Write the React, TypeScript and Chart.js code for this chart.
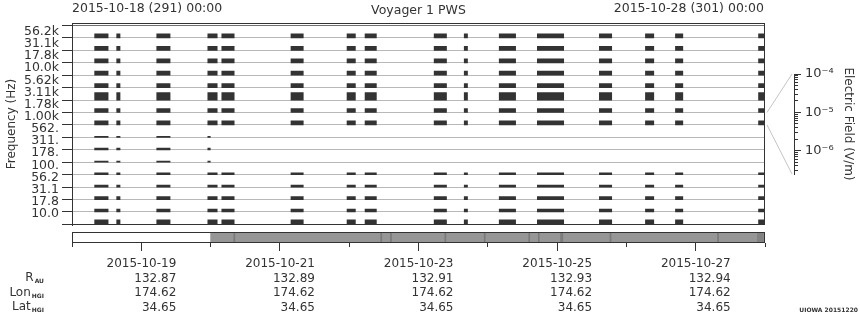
import React, { useEffect, useRef } from 'react';
import { Chart, registerables } from 'chart.js';

Chart.register(...registerables);

// ---------- data ----------
const CHANNEL_LABELS = ['56.2k', '31.1k', '17.8k', '10.0k', '5.62k', '3.11k', '1.78k', '1.00k', '562.', '311.', '178.', '100.', '56.2', '31.1', '17.8', '10.0'];
// observation blocks, days since 2015-10-18 00:00
const BLOCK_START = [0.322, 0.640, 1.218, 1.955, 2.157, 3.155, 3.964, 4.224, 5.221, 5.655, 6.160, 6.710, 7.605, 8.270, 8.703, 9.902];
const BLOCK_END = [0.526, 0.698, 1.420, 2.100, 2.345, 3.342, 4.094, 4.397, 5.409, 5.712, 6.406, 7.100, 7.793, 8.400, 8.819, 10.0];
// signal height of each channel (fraction of a channel band)
const CHANNEL_HEIGHT = [0.38, 0.38, 0.38, 0.38, 0.38, 0.66, 0.38, 0.38, 0.14, 0.2, 0.14, 0.2, 0.22, 0.3, 0.28, 0.42];
// last day with data for each channel
const CHANNEL_LAST_DAY = [10, 10, 10, 10, 10, 10, 10, 10, 2.0, 2.0, 2.0, 10, 10, 10, 10, 10];
const TIME_MIN = 0;
const TIME_MAX = 10;

const DATE_TICKS = [1, 3, 5, 7, 9];
const DAY_TICKS = [0, 2, 4, 6, 8, 10];
const DATE_LABELS = ['2015-10-19', '2015-10-21', '2015-10-23', '2015-10-25', '2015-10-27'];
const R_AU = ['132.87', '132.89', '132.91', '132.93', '132.94'];
const LON_HGI = ['174.62', '174.62', '174.62', '174.62', '174.62'];
const LAT_HGI = ['34.65', '34.65', '34.65', '34.65', '34.65'];

// ephemeris / coverage strip
const EPH_START = [2.0, 2.335, 4.455, 4.595, 5.38, 5.948, 6.59, 6.728, 7.05, 7.07, 7.764, 9.315, 9.89];
const EPH_END = [10.0, 2.35, 4.47, 4.61, 5.395, 5.963, 6.605, 6.743, 7.062, 7.082, 7.779, 9.33, 9.975];
const EPH_SHADE = ['#969696', '#7a7a7a', '#7a7a7a', '#7a7a7a', '#7a7a7a', '#7a7a7a', '#7a7a7a', '#7a7a7a', '#7a7a7a', '#7a7a7a', '#7a7a7a', '#7a7a7a', '#828282'];

// colour bar (electric field)
const FIELD_MAJOR = [1e-4, 1e-5, 1e-6];
const FIELD_MAJOR_LABELS = ['10\u207B\u2074', '10\u207B\u2075', '10\u207B\u2076'];
const FIELD_MINOR = [3e-7, 4e-7, 5e-7, 6e-7, 7e-7, 8e-7, 9e-7, 2e-6, 3e-6, 4e-6, 5e-6, 6e-6, 7e-6, 8e-6, 9e-6, 2e-5, 3e-5, 4e-5, 5e-5, 6e-5, 7e-5, 8e-5, 9e-5];
const FIELD_MIN = 2.45e-7;
const FIELD_MAX = 1e-4;
const FIELD_BAND = 7; // channel linked to colour bar (1.00k)

// ---------- layout ----------
const W = 860;
const H = 320;
const PLOT_LEFT = 72;
const PLOT_RIGHT = 765;
const PLOT_TOP = 23;
const PLOT_BOTTOM = 225;
const EPH_TOP = 232;
const EPH_BOTTOM = 243;
const CB_X = 794;
const CB_TOP = 74;
const CB_BOTTOM = 174;

const FONT = "'DejaVu Sans', sans-serif";
const TEXT = '#333333';
const DARK = '#333333';

const framePlugin = {
  id: 'frame',
  afterDraw(chart: any) {
    const { ctx, chartArea: a } = chart;
    ctx.save();
    ctx.strokeStyle = DARK;
    ctx.lineWidth = 1;
    ctx.strokeRect(Math.round(a.left) + 0.5, Math.round(a.top) + 0.5, Math.round(a.right - a.left) - 1, Math.round(a.bottom - a.top) - 1);
    ctx.restore();
  },
};

const connectorPlugin = {
  id: 'connector',
  afterDraw(chart: any) {
    const { ctx, chartArea: a } = chart;
    const y = chart.scales.y;
    const n = CHANNEL_LABELS.length;
    const top = y.getPixelForValue(n - FIELD_BAND);
    const bot = y.getPixelForValue(n - 1 - FIELD_BAND);
    ctx.save();
    ctx.strokeStyle = '#c4c4c4';
    ctx.lineWidth = 1;
    ctx.beginPath();
    ctx.moveTo(a.right + 2, top);
    ctx.lineTo(CB_X - 2, CB_TOP);
    ctx.moveTo(a.right + 2, bot);
    ctx.lineTo(CB_X - 2, CB_BOTTOM);
    ctx.stroke();
    ctx.restore();
  },
};

function mainConfig(): any {
  const n = CHANNEL_LABELS.length;
  const datasets = CHANNEL_LABELS.map((label, i) => {
    const base = n - 1 - i - 0.03;
    const h = CHANNEL_HEIGHT[i];
    const pts: { x: number; y: number }[] = [{ x: TIME_MIN, y: base }];
    BLOCK_START.forEach((s, j) => {
      const e = Math.min(BLOCK_END[j], CHANNEL_LAST_DAY[i]);
      if (s >= e) return;
      pts.push({ x: s, y: base }, { x: s, y: base + h }, { x: e, y: base + h }, { x: e, y: base });
    });
    pts.push({ x: TIME_MAX, y: base });
    return {
      label,
      data: pts,
      borderColor: 'rgba(0,0,0,0)',
      borderWidth: 1,
      backgroundColor: DARK,
      pointRadius: 0,
      tension: 0,
      fill: { value: base },
    };
  });
  const yMin = -0.05;
  const yMax = 16.2;
  return {
    type: 'line',
    data: { datasets },
    plugins: [framePlugin, connectorPlugin],
    options: {
      animation: false,
      responsive: false,
      events: [],
      layout: { padding: { left: 0, right: W - PLOT_RIGHT, top: PLOT_TOP, bottom: H - PLOT_BOTTOM } },
      plugins: { legend: { display: false }, tooltip: { enabled: false } },
      scales: {
        x: { type: 'linear', min: TIME_MIN, max: TIME_MAX, display: false },
        y: {
          type: 'linear',
          position: 'left',
          weight: 0,
          min: yMin,
          max: yMax,
          afterBuildTicks: (s: any) => {
            s.ticks = Array.from({ length: n + 1 }, (_, v) => ({ value: v }));
          },
          afterFit: (s: any) => {
            s.width = 10;
          },
          ticks: { display: false, autoSkip: false },
          grid: {
            color: (c: any) => (c.tick && c.tick.value === n ? '#707070' : '#b8b8b8'),
            tickColor: DARK,
            tickLength: 10,
            lineWidth: 1,
            drawOnChartArea: true,
            drawTicks: true,
          },
          border: { display: true, color: DARK, width: 1 },
        },
        yl: {
          type: 'linear',
          position: 'left',
          weight: 1,
          min: yMin,
          max: yMax,
          afterBuildTicks: (s: any) => {
            s.ticks = CHANNEL_LABELS.map((_, i) => ({ value: n - 0.5 - 0.977 * i }));
          },
          afterFit: (s: any) => {
            s.width = PLOT_LEFT - 10;
          },
          ticks: {
            autoSkip: false,
            padding: 3,
            color: TEXT,
            font: { family: FONT, size: 12.5 },
            callback: (_v: any, i: number) => CHANNEL_LABELS[i],
          },
          grid: { display: false, drawTicks: false },
          border: { display: false },
          title: { display: true, text: 'Frequency (Hz)', color: TEXT, font: { family: FONT, size: 12 }, padding: { top: 5, bottom: 4 } },
        },
      },
    },
  };
}

function ephConfig(): any {
  return {
    type: 'bar',
    data: {
      labels: ['eph'],
      datasets: [
        {
          data: EPH_START.map((s, i) => ({ x: [s, EPH_END[i]], y: 'eph' })),
          backgroundColor: EPH_SHADE,
          borderWidth: 0,
          barPercentage: 1,
          categoryPercentage: 1,
        },
      ],
    },
    plugins: [framePlugin],
    options: {
      indexAxis: 'y',
      animation: false,
      responsive: false,
      events: [],
      layout: { padding: { left: PLOT_LEFT, right: W - PLOT_RIGHT, top: EPH_TOP, bottom: 0 } },
      plugins: { legend: { display: false }, tooltip: { enabled: false } },
      scales: {
        y: { type: 'category', display: false },
        xm: {
          type: 'linear',
          position: 'bottom',
          weight: 0,
          min: TIME_MIN,
          max: TIME_MAX,
          afterBuildTicks: (s: any) => {
            s.ticks = DAY_TICKS.map((v) => ({ value: v }));
          },
          afterFit: (s: any) => {
            s.height = 0;
          },
          ticks: { display: false, autoSkip: false },
          grid: { drawOnChartArea: false, tickLength: 4, tickColor: DARK },
          border: { display: false },
        },
        x: {
          type: 'linear',
          position: 'bottom',
          weight: 1,
          min: TIME_MIN,
          max: TIME_MAX,
          afterBuildTicks: (s: any) => {
            s.ticks = DATE_TICKS.map((v) => ({ value: v }));
          },
          afterFit: (s: any) => {
            s.height = H - EPH_BOTTOM;
          },
          ticks: {
            autoSkip: false,
            maxRotation: 0,
            minRotation: 0,
            align: 'end',
            labelOffset: 35,
            padding: 6,
            color: TEXT,
            font: { family: FONT, size: 12, lineHeight: 1.2 },
            callback: (_v: any, i: number) => [DATE_LABELS[i], R_AU[i], LON_HGI[i], LAT_HGI[i]],
          },
          grid: { drawOnChartArea: false, tickLength: 8, tickColor: DARK },
          border: { display: false },
        },
      },
    },
  };
}

function cbConfig(): any {
  return {
    type: 'scatter',
    data: { datasets: [{ data: [] }] },
    options: {
      animation: false,
      responsive: false,
      events: [],
      layout: { padding: { left: CB_X - 10, right: 0, top: CB_TOP, bottom: H - CB_BOTTOM } },
      plugins: { legend: { display: false }, tooltip: { enabled: false } },
      scales: {
        x: { type: 'linear', display: false },
        y: {
          type: 'logarithmic',
          position: 'right',
          weight: 1,
          min: FIELD_MIN,
          max: FIELD_MAX,
          afterBuildTicks: (s: any) => {
            s.ticks = FIELD_MAJOR.map((v) => ({ value: v }));
          },
          afterFit: (s: any) => {
            s.width = W - CB_X;
          },
          ticks: {
            autoSkip: false,
            padding: 4,
            color: TEXT,
            font: { family: FONT, size: 13 },
            callback: (_v: any, i: number) => FIELD_MAJOR_LABELS[i],
          },
          grid: { drawOnChartArea: false, tickLength: 7, tickColor: DARK },
          border: { display: true, color: DARK },
          title: { display: true, text: 'Electric Field (V/m)', color: TEXT, font: { family: FONT, size: 12 }, padding: { top: 5, bottom: 4 } },
        },
        ym: {
          type: 'logarithmic',
          position: 'right',
          weight: 0,
          min: FIELD_MIN,
          max: FIELD_MAX,
          afterBuildTicks: (s: any) => {
            s.ticks = FIELD_MINOR.map((v) => ({ value: v }));
          },
          afterFit: (s: any) => {
            s.width = 0;
          },
          ticks: { display: false, autoSkip: false },
          grid: { drawOnChartArea: false, tickLength: 4, tickColor: DARK },
          border: { display: false },
        },
      },
    },
  };
}

const canvasStyle: React.CSSProperties = { position: 'absolute', left: 0, top: 0, width: W, height: H };
const txt: React.CSSProperties = {
  position: 'absolute',
  fontFamily: FONT,
  fontSize: 12,
  lineHeight: '14px',
  color: TEXT,
  whiteSpace: 'nowrap',
};
const head: React.CSSProperties = { ...txt, fontSize: 12.5 };
const sub: React.CSSProperties = { fontSize: 6, fontWeight: 'bold', verticalAlign: '-2px', marginLeft: 1 };

export default function App() {
  const mainRef = useRef<HTMLCanvasElement>(null);
  const ephRef = useRef<HTMLCanvasElement>(null);
  const cbRef = useRef<HTMLCanvasElement>(null);

  useEffect(() => {
    const charts: Chart[] = [];
    if (mainRef.current) charts.push(new Chart(mainRef.current, mainConfig()));
    if (ephRef.current) charts.push(new Chart(ephRef.current, ephConfig()));
    if (cbRef.current) charts.push(new Chart(cbRef.current, cbConfig()));
    return () => charts.forEach((c) => c.destroy());
  }, []);

  return (
    <div style={{ position: 'fixed', left: 0, top: 0, width: W, height: H, background: '#ffffff', overflow: 'hidden' }}>
      <canvas ref={mainRef} width={W} height={H} style={canvasStyle} />
      <canvas ref={ephRef} width={W} height={H} style={canvasStyle} />
      <canvas ref={cbRef} width={W} height={H} style={canvasStyle} />
      <div style={{ ...head, left: 72, top: 1 }}>2015-10-18 (291) 00:00</div>
      <div style={{ ...head, left: (PLOT_LEFT + PLOT_RIGHT) / 2, top: 3, transform: 'translateX(-50%)' }}>Voyager 1 PWS</div>
      <div style={{ ...head, right: W - 764, top: 1 }}>2015-10-28 (301) 00:00</div>
      <div style={{ ...txt, right: W - 44, top: 270 }}>
        R<span style={sub}>AU</span>
      </div>
      <div style={{ ...txt, right: W - 44, top: 284.5 }}>
        Lon<span style={sub}>HGI</span>
      </div>
      <div style={{ ...txt, right: W - 44, top: 299 }}>
        Lat<span style={sub}>HGI</span>
      </div>
      <div style={{ ...txt, right: 2, top: 306, fontSize: 6, fontWeight: 'bold', lineHeight: '8px' }}>UIOWA 20151220</div>
    </div>
  );
}
